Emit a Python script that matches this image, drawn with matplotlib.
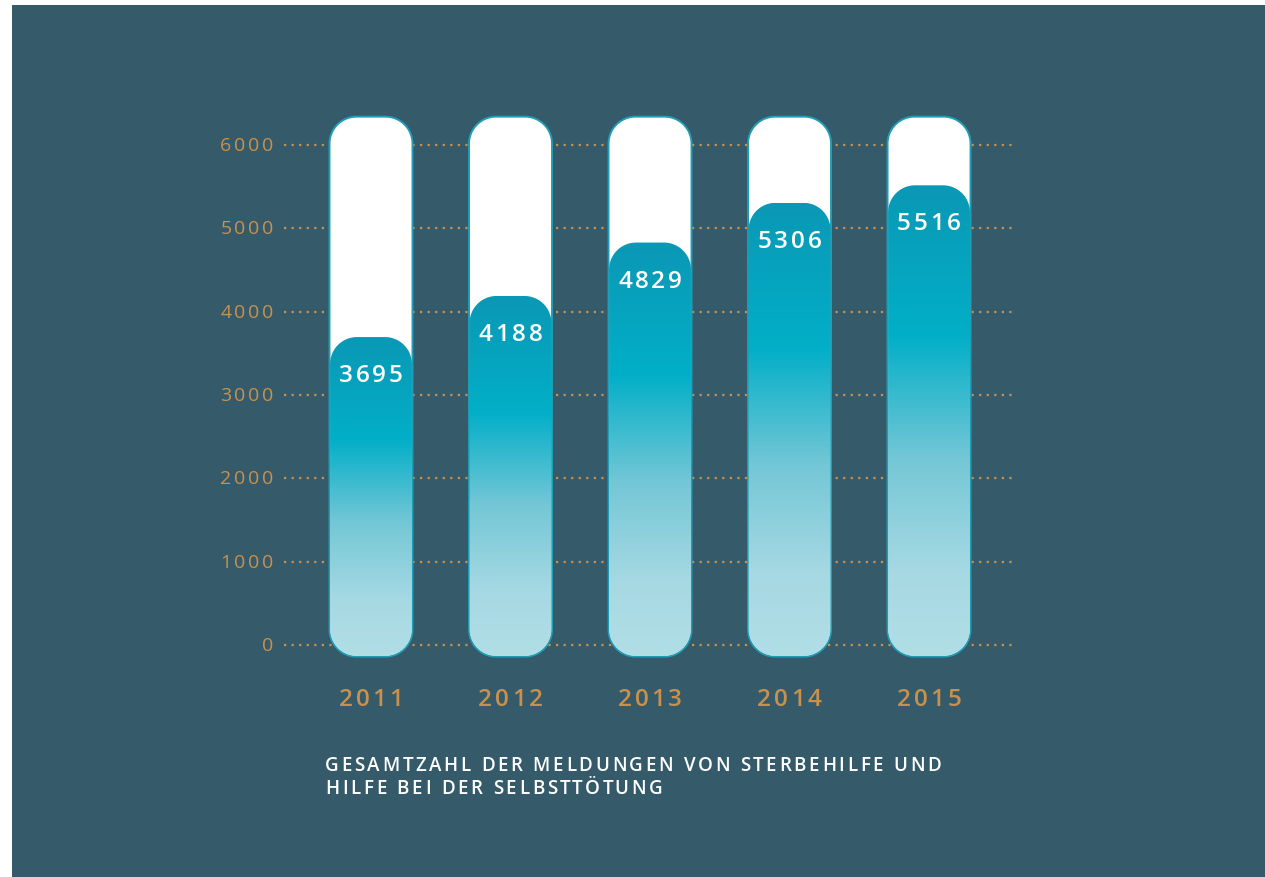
import numpy as np
import matplotlib.pyplot as plt
from matplotlib.path import Path
from matplotlib.patches import PathPatch, Rectangle
from matplotlib.colors import LinearSegmentedColormap
from matplotlib.transforms import IdentityTransform

# data
years = ['2011', '2012', '2013', '2014', '2015']
meldungen = [3695, 4188, 4829, 5306, 5516]
y_ticks = [0, 1000, 2000, 3000, 4000, 5000, 6000]
caption = ['GESAMTZAHL DER MELDUNGEN VON STERBEHILFE UND',
           'HILFE BEI DER SELBSTTÖTUNG']

# style
BG = '#355a6a'
ORANGE = '#c8914e'
TUBE_TOP = 6340
TUBE_BOTTOM = -140
BAR_W = 0.595
PX_X = 139.5      # pixels per bar step
PX_Y = 0.08333    # pixels per unit value
CORNER = 27       # corner radius in pixels

plt.rcParams['font.family'] = ['Open Sans', 'DejaVu Sans']

grad_cmap = LinearSegmentedColormap.from_list('tube', [
    (0.0, '#0a98b5'), (0.32, '#02afc8'), (0.58, '#74c7d6'),
    (0.82, '#a6d9e3'), (1.0, '#b2dee6')])


def rounded_rect(x0, x1, y0, y1, rx, ry, n=24):
    t = np.linspace(0, np.pi / 2, n)
    pts = []
    for cx, cy, a0 in [(x1 - rx, y0 + ry, -np.pi / 2), (x1 - rx, y1 - ry, 0),
                       (x0 + rx, y1 - ry, np.pi / 2), (x0 + rx, y0 + ry, np.pi)]:
        a = a0 + t
        pts.extend(zip(cx + rx * np.cos(a), cy + ry * np.sin(a)))
    pts.append(pts[0])
    return Path(pts, closed=True)


fig = plt.figure(figsize=(12.65, 8.78), dpi=100)
fig.patch.set_facecolor('white')
fig.add_artist(Rectangle((12 / 1265, 0), 1, (878 - 6) / 878, transform=fig.transFigure,
                         facecolor=BG, edgecolor='none', zorder=0))
renderer = fig.canvas.get_renderer()


def text_w(s, **kw):
    t = fig.text(0, 0, s, transform=IdentityTransform(), **kw)
    w = t.get_window_extent(renderer).width
    t.remove()
    return w


def spaced_text(x, y, s, spacing, ha='left', **kw):
    # letter-spaced text, x/y in pixels from the bottom left
    widths = []
    for c in s:
        if c == ' ':
            widths.append(text_w('n n', **kw) - text_w('nn', **kw))
        else:
            widths.append(text_w(c + 'n', **kw) - text_w('n', **kw))
    total = sum(widths[:-1]) + text_w(s[-1], **kw) + spacing * (len(s) - 1)
    if ha == 'center':
        x -= total / 2
    elif ha == 'right':
        x -= total
    for c, w in zip(s, widths):
        if c != ' ':
            fig.text(x, y, c, transform=IdentityTransform(), ha='left', va='center', **kw)
        x += w + spacing


ax = fig.add_axes([0.2249, 0.2358, 0.5779, 0.6454])
ax.set_facecolor('none')
for s in ax.spines.values():
    s.set_visible(False)
ax.set_xlim(-0.62, 4.62)
ax.set_ylim(-300, 6500)
ax.set_xticks([])
ax.set_yticks([])

# dotted grid lines
for t in y_ticks:
    ax.plot([-0.62, 4.62], [t, t], color=ORANGE, lw=1.6, ls=(0, (1, 2.4)), zorder=1)

rx = CORNER / PX_X
ry = CORNER / PX_Y
grad = np.linspace(0, 1, 256).reshape(-1, 1)
for i, v in enumerate(meldungen):
    x0, x1 = i - BAR_W / 2, i + BAR_W / 2
    tube = PathPatch(rounded_rect(x0, x1, TUBE_BOTTOM, TUBE_TOP, rx, ry),
                     facecolor='white', edgecolor='#1f9db6', lw=1.4, zorder=2)
    ax.add_patch(tube)
    fill = PathPatch(rounded_rect(x0 + 0.004, x1 - 0.004, TUBE_BOTTOM + 8, v, rx, ry),
                     facecolor='none', edgecolor='none', zorder=3)
    ax.add_patch(fill)
    im = ax.imshow(grad, extent=(x0, x1, TUBE_BOTTOM, v), aspect='auto', cmap=grad_cmap,
                   origin='upper', zorder=3, interpolation='bilinear')
    im.set_clip_path(fill)

ax.set_xlim(-0.62, 4.62)
ax.set_ylim(-300, 6500)

# value labels inside the fills
for i, v in enumerate(meldungen):
    px, py = ax.transData.transform((i, v))
    spaced_text(px, py - 38, str(v), 2.8, ha='center', color='white',
                fontsize=17.5, fontweight='semibold')

# year labels under the tubes
for i, yr in enumerate(years):
    px, py = ax.transData.transform((i, 0))
    spaced_text(px, 878 - 700, yr, 3.0, ha='center', color=ORANGE,
                fontsize=17.5, fontweight='semibold')

# y tick labels
for t in y_ticks:
    px, py = ax.transData.transform((-0.62, t))
    spaced_text(273, py, str(t), 2.6, ha='right', color=ORANGE, fontsize=14)

# caption
for k, line in enumerate(caption):
    spaced_text(325, 878 - 766 - 23 * k, line, 2.7, color='white',
                fontsize=13.5, fontweight='semibold')

fig.savefig('out.png', dpi=100)
